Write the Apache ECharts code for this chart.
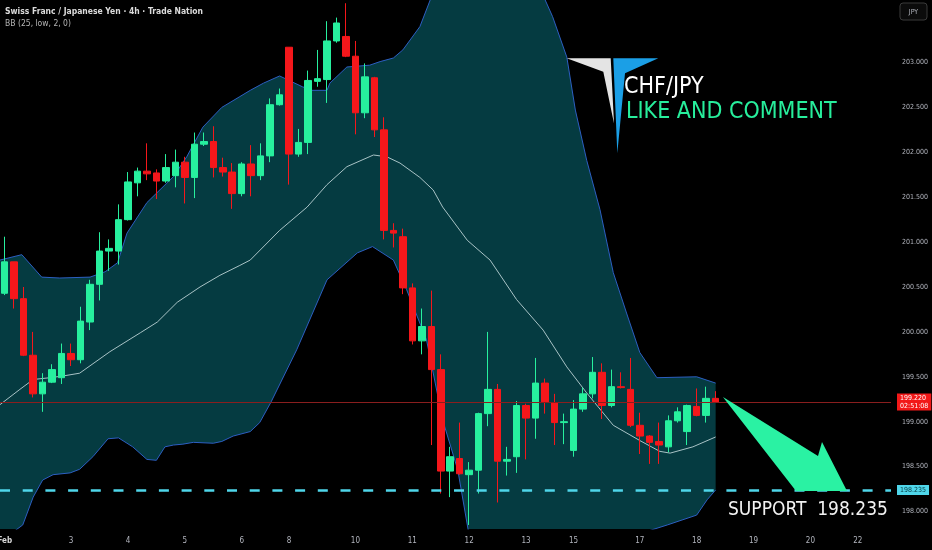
<!DOCTYPE html>
<html><head><meta charset="utf-8">
<script src="https://cdn.jsdelivr.net/npm/echarts@6/dist/echarts.min.js"></script>
<style>html,body{margin:0;padding:0;background:#000;}#c{width:932px;height:550px;}</style>
</head><body><div id="c"></div>
<script>
// ---- candle data (4h CHF/JPY) ----
const opens  = [200.43,200.78,200.37,199.74,199.31,199.44,199.49,199.76,199.69,200.11,200.53,200.90,200.90,201.25,201.66,201.79,201.77,201.68,201.74,201.89,201.72,202.09,202.12,201.83,201.78,201.54,201.87,201.74,201.96,202.53,203.17,201.98,202.11,202.79,202.81,203.24,203.29,203.07,202.44,202.83,202.25,201.13,201.06,200.49,199.90,200.06,199.58,198.45,198.59,198.41,198.46,199.09,199.36,198.56,198.61,199.18,199.04,199.43,199.21,198.99,198.68,199.14,199.31,199.55,199.18,199.39,199.36,198.96,198.84,198.78,198.72,199.01,198.89,199.17,199.07,199.26];
const closes = [200.78,200.37,199.74,199.31,199.44,199.58,199.76,199.69,200.12,200.53,200.90,200.93,201.25,201.67,201.79,201.76,201.68,201.83,201.89,201.72,202.09,202.12,201.83,201.78,201.54,201.87,201.74,201.96,202.53,202.64,201.98,202.11,202.80,202.82,203.24,203.44,203.07,202.44,202.84,202.25,201.13,201.10,200.49,199.90,200.06,199.58,198.45,198.61,198.42,198.46,199.09,199.36,198.56,198.58,199.18,199.04,199.43,199.22,198.99,199.00,199.14,199.31,199.55,199.18,199.39,199.38,198.96,198.84,198.77,198.74,199.01,199.11,199.18,199.07,199.26,199.22];
const lows   = [200.41,200.26,199.73,199.27,199.11,199.43,199.42,199.62,199.65,200.02,200.35,200.68,200.75,201.24,201.51,201.69,201.48,201.66,201.61,201.43,201.49,202.07,201.72,201.73,201.37,201.51,201.51,201.69,201.89,202.52,201.64,201.95,201.98,202.73,202.55,203.22,203.06,202.20,202.38,202.17,201.03,200.94,200.42,199.86,199.75,198.74,198.20,198.16,198.41,197.85,198.20,198.95,198.10,198.40,198.43,198.58,198.81,199.09,198.74,198.75,198.61,199.11,199.26,199.03,199.16,199.37,198.94,198.64,198.53,198.53,198.66,198.99,198.74,199.06,198.99,199.21];
const highs  = [201.06,200.78,200.50,200.00,199.54,199.64,199.87,199.87,200.28,200.58,201.11,201.03,201.42,201.78,201.83,202.10,201.81,201.98,202.03,201.95,202.22,202.22,202.29,201.94,201.88,201.89,202.08,202.10,202.60,202.71,203.17,202.26,202.91,203.14,203.46,203.50,203.66,203.24,202.99,202.84,202.39,201.21,201.15,200.54,200.26,200.46,199.75,198.72,198.99,198.55,199.10,200.00,199.42,198.72,199.23,199.20,199.71,199.48,199.31,199.09,199.24,199.38,199.72,199.65,199.58,199.55,199.71,199.10,198.85,198.99,199.07,199.16,199.19,199.37,199.39,199.34];

// ---- Bollinger band readings (candle index, price) ----
const upperIdx = [-0.5,1.8,3.9,5.8,9.0,10.6,11.9,12.9,15.0,17.8,19.2,20.9,22.9,24.8,25.9,27.3,29.0,31.4,32.4,34.0,34.3,36.1,38.5,39.6,41.0,42.0,43.8,44.9,47,50,53,55.5,57.0,57.8,59.3,60.2,61.4,62.8,64.2,65.6,67.0,68.8,73.0,75];
const upperVal = [200.80,200.86,200.61,200.60,200.61,200.67,200.77,201.10,201.44,201.73,201.95,202.28,202.50,202.62,202.69,202.77,202.85,202.73,202.69,202.69,202.77,202.95,202.97,203.01,203.05,203.14,203.40,203.70,204.0,204.3,204.3,204.0,203.70,203.51,203.06,202.47,201.91,201.36,200.66,200.21,199.77,199.49,199.50,199.43];
const midIdx = [-0.5,1.6,3.0,4.8,6.2,7.9,11.1,14.3,16.1,18.2,20.6,22.7,24.8,25.9,29.0,31.9,34.0,36.1,38.9,40.3,41.7,43.8,45.2,46.2,48.8,51.2,54.0,56.8,59.3,61.4,64.2,67.0,69.1,70.2,72.6,75];
const midVal = [199.19,199.36,199.47,199.49,199.51,199.54,199.78,199.99,200.11,200.33,200.50,200.63,200.74,200.80,201.13,201.39,201.64,201.84,201.97,201.95,201.88,201.72,201.58,201.39,201.02,200.80,200.36,200.02,199.61,199.32,198.96,198.79,198.67,198.65,198.72,198.83];
const lowerIdx = [-0.5,1.0,1.9,3.0,4.0,5.1,6.9,7.9,9.3,10.9,12.0,13.5,15.0,16.0,16.9,17.8,18.8,19.9,22.0,22.9,24.1,25.9,26.9,28.1,30.8,34.0,37.2,38.8,41.0,42.4,44.5,46.2,47.8,48.9,50,53,56,60,64,68.1,69.9,73.0,74.1,75];
const lowerVal = [197.75,197.78,197.85,198.16,198.35,198.41,198.43,198.47,198.61,198.81,198.82,198.72,198.58,198.57,198.72,198.74,198.75,198.77,198.76,198.78,198.84,198.89,198.99,199.22,199.80,200.58,200.88,200.95,200.80,200.47,199.91,199.02,198.46,197.79,197.55,197.30,197.20,197.30,197.55,197.79,197.85,197.96,198.13,198.24];

// ---- axis labels ----
const dayLabels = ['Feb','3','4','5','6','8','10','11','12','13','15','17','18','19','20','22'];
const dayLabelIdx = [0,7,13,19,25,30,37,43,49,55,60,67,73,79,85,90];
const priceTicks = [198,198.5,199,199.5,200,200.5,201,201.5,202,202.5,203];
const lastPrice = 199.22;
const supportPrice = 198.235;
const SLOTS = 94;

const cats = [];
for (let i = 0; i < SLOTS; i++) {
  const k = dayLabelIdx.indexOf(i);
  cats.push(k >= 0 ? dayLabels[k] : '');
}
const candleData = opens.map((o, i) => [o, closes[i], lows[i], highs[i]]);
const pairs = (xs, ys) => xs.map((x, i) => [x, ys[i]]);

const narrow = "'Liberation Sans Narrow','DejaVu Sans Condensed','Liberation Sans',sans-serif";
const cond = "'DejaVu Sans Condensed','DejaVu Sans',sans-serif";
const UP = '#27f09e', DOWN = '#f5171b';

const chart = echarts.init(document.getElementById('c'), null, {renderer: 'canvas'});
chart.setOption({
  backgroundColor: '#000',
  animation: false,
  grid: {left: 0, right: 41, top: 0, bottom: 21, containLabel: false, outerBoundsMode: 'none'},
  xAxis: [
    {type: 'category', data: cats, boundaryGap: true,
     axisLine: {show: false}, axisTick: {show: false}, splitLine: {show: false},
     axisLabel: {interval: 0, margin: 8, color: '#b2b5be', fontSize: 8, fontFamily: narrow,
       formatter: v => v === 'Feb' ? '{b|Feb}' : v,
       rich: {b: {fontWeight: 'bold', color: '#d8d8d8', fontSize: 8, fontFamily: narrow}}}},
    {type: 'value', min: -0.5, max: SLOTS - 0.5, show: false}
  ],
  yAxis: {type: 'value', position: 'right', min: 197.805, max: 203.696, scale: true,
    axisLine: {show: false}, axisTick: {show: false}, splitLine: {show: false},
    axisLabel: {customValues: priceTicks, margin: 11, color: '#b2b5be', fontSize: 7,
      fontFamily: narrow, formatter: v => Number(v).toFixed(3)}},
  series: [
    {type: 'custom', xAxisIndex: 1, z: 1, silent: true, data: [[0, 200]],
     renderItem: function (params, api) {
       const pts = [];
       for (let k = 0; k < upperIdx.length; k++) pts.push(api.coord([upperIdx[k], upperVal[k]]));
       for (let k = lowerIdx.length - 1; k >= 0; k--) pts.push(api.coord([lowerIdx[k], lowerVal[k]]));
       const cs = params.coordSys;
       return {type: 'polygon', shape: {points: pts}, style: {fill: '#053b41'},
               clipPath: {type: 'rect', shape: {x: cs.x, y: cs.y, width: cs.width, height: cs.height}}};
     }},
    {type: 'line', xAxisIndex: 1, z: 2, silent: true, symbol: 'none', data: pairs(upperIdx, upperVal),
     lineStyle: {color: '#2d5fc2', width: 1}},
    {type: 'line', xAxisIndex: 1, z: 2, silent: true, symbol: 'none', data: pairs(lowerIdx, lowerVal),
     lineStyle: {color: '#2d5fc2', width: 1}},
    {type: 'line', xAxisIndex: 1, z: 2, silent: true, symbol: 'none', data: pairs(midIdx, midVal),
     lineStyle: {color: '#a9c3c6', width: 1}},
    {type: 'candlestick', xAxisIndex: 0, z: 3, barWidth: 7, data: candleData,
     itemStyle: {color: UP, color0: DOWN, borderColor: UP, borderColor0: DOWN, borderWidth: 1},
     markLine: {silent: true, symbol: 'none', animation: false,
       data: [
         {yAxis: lastPrice, lineStyle: {color: '#8a1e1e', width: 1, type: 'solid'},
          label: {show: true, position: 'end', distance: 6, formatter: '199.220\n02:51:08',
            backgroundColor: '#f21818', color: '#fff', fontSize: 7, lineHeight: 8,
            fontFamily: narrow, padding: [1, 3, 0, 3]}},
         {yAxis: supportPrice, lineStyle: {color: '#4fd6ea', width: 2.5, type: [10, 12.7]},
          label: {show: true, position: 'end', distance: 6, formatter: '198.235',
            backgroundColor: '#4fd6ea', color: '#063a40', fontSize: 7, lineHeight: 9,
            fontFamily: narrow, padding: [1, 3, 0, 3]}}
       ]}}
  ],
  graphic: [
    {type: 'text', z: 10, style: {x: 5, y: 12, text: 'Swiss Franc / Japanese Yen · 4h · Trade Nation',
      fill: '#dcdcdc', font: "bold 8.5px " + narrow, verticalAlign: 'middle'}},
    {type: 'text', z: 10, style: {x: 5, y: 24, text: 'BB (25, low, 2, 0)',
      fill: '#b5b5b5', font: "8.5px " + narrow, verticalAlign: 'middle'}},
    {type: 'rect', z: 10, shape: {x: 900, y: 3, width: 27, height: 17, r: 3},
      style: {fill: '#0b0b0b', stroke: '#3a3a3a', lineWidth: 1}},
    {type: 'text', z: 11, style: {x: 913.5, y: 12, text: 'JPY', fill: '#b2b5be',
      font: "7px " + narrow, align: 'center', verticalAlign: 'middle'}},
    // logo
    {type: 'polygon', z: 10, shape: {points: [[566.7, 58.3], [610.7, 58.3], [614, 123.5], [603.3, 71.7]]},
      style: {fill: '#e4e4e4'}},
    {type: 'polygon', z: 10, shape: {points: [[613.3, 58.3], [658.3, 58.3], [625, 73.3], [617.3, 153.3]]},
      style: {fill: '#1b9fe6'}},
    {type: 'text', z: 10, style: {x: 624, y: 87, text: 'CHF/JPY', fill: '#ffffff',
      font: "23px " + cond, verticalAlign: 'middle'}},
    {type: 'text', z: 10, style: {x: 626, y: 112, text: 'LIKE AND COMMENT', fill: '#27ee9c',
      font: "23px " + cond, verticalAlign: 'middle'}},
    // arrow
    {type: 'polygon', z: 10, shape: {points: [[723, 397], [818, 456], [822, 442], [847, 491], [796, 491], [726, 401]]},
      style: {fill: '#2af2a3'}},
    {type: 'text', z: 10, style: {x: 728, y: 510, text: 'SUPPORT  198.235', fill: '#f2f2f2',
      font: "19px " + cond, verticalAlign: 'middle'}}
  ]
});
</script>
</body></html>
